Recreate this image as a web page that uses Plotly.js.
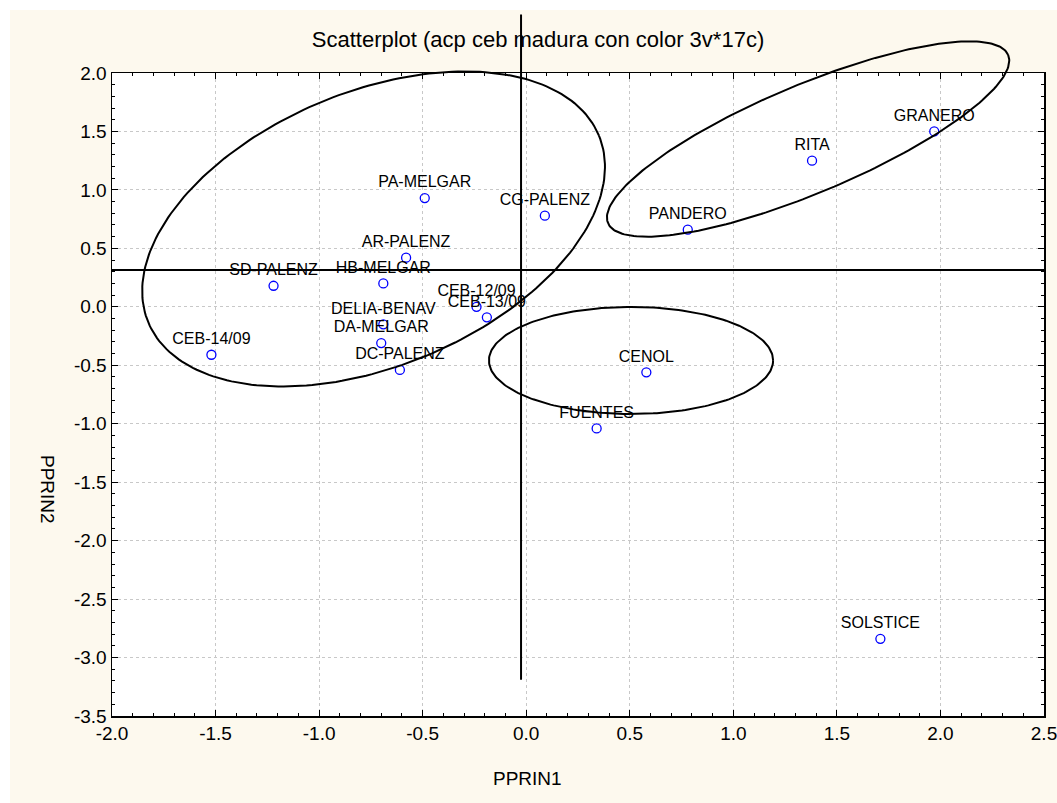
<!DOCTYPE html>
<html><head><meta charset="utf-8">
<script src="https://cdn.plot.ly/plotly-3.0.1.min.js"></script>
<style>html,body{margin:0;padding:0;background:#fff}#chart{width:1057px;height:803px}</style>
</head><body><div id="chart"></div>
<script>
// ---- data ----
const labels = ["GRANERO","RITA","PANDERO","CG-PALENZ","PA-MELGAR","AR-PALENZ","SD-PALENZ","HB-MELGAR","CEB-12/09","CEB-13/09","DELIA-BENAV","DA-MELGAR","DC-PALENZ","CEB-14/09","CENOL","FUENTES","SOLSTICE"];
const pprin1 = [1.97, 1.38, 0.78, 0.09, -0.49, -0.58, -1.22, -0.69, -0.24, -0.19, -0.69, -0.70, -0.61, -1.52, 0.58, 0.34, 1.71];
const pprin2 = [1.50, 1.25, 0.66, 0.78, 0.93, 0.42, 0.18, 0.20, 0.00, -0.09, -0.15, -0.31, -0.54, -0.41, -0.56, -1.04, -2.84];

// ellipses: centre and two conjugate semi-axis vectors (data units)
const ellCx = [-0.737, 1.361, 0.506];
const ellCy = [0.666, 1.435, -0.459];
const ellUx = [1.088, 0.966, 0.686];
const ellUy = [0.799, 0.719, 0.000];
const ellVx = [-0.254, -0.101, 0.000];
const ellVy = [1.085, 0.426, 0.458];

// reference lines
const vLineX = [-0.025, -0.025];
const vLineY = [-3.19, 2.50];
const hLineX = [-2.0, 2.5];
const hLineY = [0.315, 0.315];

const xTickVals = [-2.0,-1.5,-1.0,-0.5,0.0,0.5,1.0,1.5,2.0,2.5];
const xTickText = ["-2.0","-1.5","-1.0","-0.5","0.0","0.5","1.0","1.5","2.0","2.5"];
const yTickVals = [2.0,1.5,1.0,0.5,0.0,-0.5,-1.0,-1.5,-2.0,-2.5,-3.0,-3.5];
const yTickText = ["2.0","1.5","1.0","0.5","0.0","-0.5","-1.0","-1.5","-2.0","-2.5","-3.0","-3.5"];

// ---- layout geometry ----
const W = 1057, H = 803;
const mL = 112, mR = 13, mT = 10, mB = 87;
const plotW = W - mL - mR, paperH = H - mT - mB;
const mainTopPx = 73; // top of frame
const mainTop = (H - mB - mainTopPx) / paperH;
const xRange = [-2.0, 2.5], yRange = [-3.5, 2.0];
const y2Range = [yRange[0], yRange[0] + (yRange[1]-yRange[0]) / mainTop];

const FONT = "Liberation Sans, Arial, sans-serif";
const cream = "#fdf9ee";

const traces = [];
// ellipses
for (let k = 0; k < ellCx.length; k++) {
  const ex = [], ey = [];
  for (let i = 0; i <= 240; i++) {
    const t = 2 * Math.PI * i / 240;
    ex.push(ellCx[k] + ellUx[k]*Math.cos(t) + ellVx[k]*Math.sin(t));
    ey.push(ellCy[k] + ellUy[k]*Math.cos(t) + ellVy[k]*Math.sin(t));
  }
  traces.push({x: ex, y: ey, xaxis: 'x2', yaxis: 'y2', mode: 'lines', line: {color: '#000', width: 2}, hoverinfo: 'skip', showlegend: false});
}
traces.push({x: vLineX, y: vLineY, xaxis: 'x2', yaxis: 'y2', mode: 'lines', line: {color: '#000', width: 2}, showlegend: false});
traces.push({x: hLineX, y: hLineY, xaxis: 'x2', yaxis: 'y2', mode: 'lines', line: {color: '#000', width: 2}, showlegend: false});
// points
traces.push({
  x: pprin1, y: pprin2, text: labels, mode: 'markers+text', textposition: 'top center',
  textfont: {family: FONT, size: 16, color: '#000'},
  marker: {symbol: 'circle-open', size: 9, color: '#0000ff', line: {width: 1.3, color: '#0000ff'}},
  showlegend: false, cliponaxis: false
});

const axBase = {
  ticks: 'inside', ticklen: 6, tickwidth: 1, tickcolor: '#000',
  showline: true, linecolor: '#000', linewidth: 1.5, mirror: 'allticks',
  showgrid: true, gridcolor: '#c8c8c8', gridwidth: 1, griddash: '3px,3px',
  zeroline: false, tickmode: 'array', ticklabeloverflow: 'allow',
  tickfont: {family: FONT, size: 19, color: '#000'},
  minor: {tickmode: 'linear', tick0: 0, dtick: 0.1, ticks: 'inside', ticklen: 3, tickwidth: 1, tickcolor: '#000', showgrid: false}
};

const layout = {
  width: W, height: H,
  margin: {l: mL, r: mR, t: mT, b: mB, pad: 0},
  paper_bgcolor: cream, plot_bgcolor: 'rgba(0,0,0,0)',
  font: {family: FONT, color: '#000'},
  title: {text: 'Scatterplot (acp ceb madura con color 3v*17c)', font: {family: FONT, size: 22, color: '#000'},
          xref: 'container', yref: 'container', x: 538/W, y: 1 - 39/H, xanchor: 'center', yanchor: 'middle'},
  xaxis: Object.assign({}, axBase, {domain: [0,1], range: xRange, tickvals: xTickVals, ticktext: xTickText, anchor: 'y'}),
  yaxis: Object.assign({}, axBase, {domain: [0, mainTop], range: yRange, tickvals: yTickVals, ticktext: yTickText, anchor: 'x'}),
  xaxis2: {domain: [0,1], range: xRange, visible: false, anchor: 'y2', fixedrange: true},
  yaxis2: {domain: [0,1], range: y2Range, visible: false, anchor: 'x2', fixedrange: true},
  shapes: [
    {type: 'rect', xref: 'paper', yref: 'paper', x0: 0, x1: 1, y0: 0, y1: mainTop, fillcolor: '#fff', line: {width: 0}, layer: 'below'},
    {type: 'rect', xref: 'paper', yref: 'paper', x0: -mL/plotW, x1: (W-mL)/plotW, y0: 1, y1: 1 + mT/paperH, fillcolor: '#fff', line: {width: 0}, layer: 'below'},
    {type: 'rect', xref: 'paper', yref: 'paper', x0: -mL/plotW, x1: (10-mL)/plotW, y0: -mB/paperH, y1: 1 + mT/paperH, fillcolor: '#fff', line: {width: 0}, layer: 'below'}
  ],
  annotations: [
    {text: 'PPRIN1', xref: 'paper', yref: 'paper', x: (527-mL)/plotW, y: (H-mB-778)/paperH, showarrow: false,
     xanchor: 'center', yanchor: 'middle', font: {family: FONT, size: 19, color: '#000'}},
    {text: 'PPRIN2', xref: 'paper', yref: 'paper', x: (47-mL)/plotW, y: (H-mB-489)/paperH, showarrow: false,
     textangle: 90, xanchor: 'center', yanchor: 'middle', font: {family: FONT, size: 19, color: '#000'}}
  ]
};

Plotly.newPlot('chart', traces, layout, {staticPlot: true, displayModeBar: false});
</script>
</body></html>
